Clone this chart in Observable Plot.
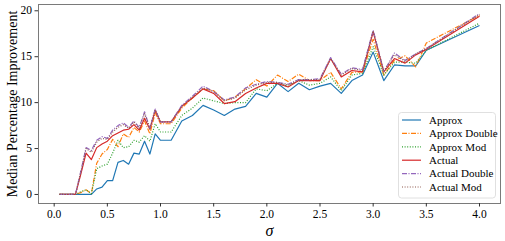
<!DOCTYPE html>
<html>
<head>
<meta charset="utf-8">
<script src="https://cdn.jsdelivr.net/npm/d3@7"></script>
<script src="https://cdn.jsdelivr.net/npm/@observablehq/plot@0.6"></script>
<style>
  html, body { margin: 0; padding: 0; background: #fff; }
  #chart { width: 505px; height: 241px; }
</style>
</head>
<body>
<div id="chart"></div>
<script>
const sigma = [0.05,0.1,0.15,0.2,0.25,0.3,0.35,0.4,0.45,0.5,0.55,0.6,0.65,0.7,0.75,0.8,0.85,0.9,0.95,1.0,
  1.1,1.2,1.3,1.4,1.5,1.6,1.7,1.8,1.9,2.0,2.1,2.2,2.3,2.4,2.5,2.6,2.7,2.8,2.9,3.0,3.1,3.2,3.3,3.4,3.5,4.0];

const approx = [0,0,0,0,0,0,0,0.6,0.8,1.5,1.5,3.5,3.7,3.3,4.5,4.4,5.8,4.4,6.6,5.9,
  5.9,8.0,8.6,9.7,9.2,8.6,9.3,9.6,11.0,10.6,12.1,11.2,12.1,11.4,11.8,12.1,11.0,12.4,13.0,15.5,12.4,14.1,14.0,14.0,15.7,18.4];
const approxDouble = [0,0,0,0,0.2,0.5,0.1,3.4,4.4,4.9,6.0,5.2,6.6,6.2,7.3,6.8,8.0,6.6,8.9,7.7,
  7.7,9.4,10.5,11.5,11.3,10.2,10.6,11.5,12.5,11.8,13.0,12.3,13.1,12.4,12.4,13.3,11.5,13.3,13.35,16.9,13.0,14.6,15.1,13.9,16.5,19.5];
const approxMod = [0,0,0,0,0.3,0.5,0.1,2.8,3.1,3.3,4.5,5.9,5.1,5.2,5.9,5.7,6.4,5.8,7.7,6.8,
  6.8,8.6,9.4,10.5,10.2,9.9,10.0,10.0,11.5,11.3,12.1,11.8,12.4,11.9,12.1,12.8,11.3,13.0,13.2,16.1,13.0,14.4,14.4,14.3,15.7,18.65];
const actual = [0,0,0,0,2.2,4.5,3.8,5.1,5.5,5.8,6.4,6.7,7.0,7.1,7.6,7.0,8.3,7.1,9.15,7.9,
  7.9,9.6,10.5,11.5,11.0,9.9,10.1,11.0,11.6,12.1,12.1,11.7,12.4,12.4,12.4,14.8,12.8,13.5,13.35,17.7,13.35,14.8,14.3,15.2,15.8,19.4];
const actualDouble = [0,0,0,0,2.5,5.1,4.8,5.9,6.3,6.1,7.0,7.5,7.8,7.3,8.0,7.3,9.0,7.2,9.3,7.9,
  7.9,9.7,10.7,11.8,11.2,10.3,10.6,11.6,12.0,12.3,12.2,12.0,12.5,12.5,12.6,14.9,13.1,13.8,13.6,17.9,13.4,15.4,14.6,15.3,15.9,19.7];
const actualMod = [0,0,0,0,2.4,5.0,4.6,5.7,6.1,6.0,6.8,7.3,7.6,7.2,7.9,7.2,8.8,7.2,9.2,7.9,
  7.9,9.6,10.6,11.6,11.2,10.2,10.5,11.4,11.9,12.2,12.2,11.9,12.5,12.5,12.5,14.8,13.0,13.7,13.5,17.8,13.4,15.2,14.5,15.3,15.9,19.6];

const seriesNames = ["Approx","Approx Double","Approx Mod","Actual","Actual Double","Actual Mod"];
const seriesValues = [approx, approxDouble, approxMod, actual, actualDouble, actualMod];
const seriesColors = ["#1f77b4","#ff7f0e","#2ca02c","#d62728","#9467bd","#8c564b"];
const seriesDash = [null, "5,1.5,1,1.5", "1,1.6", null, "5,1.5,1,1.5", "1,1.6"];

const xTicks = [0,0.5,1,1.5,2,2.5,3,3.5,4];
const yTicks = [0,5,10,15,20];

const font = "'Liberation Serif', 'DejaVu Serif', serif";

const lineMarks = seriesNames.map((name, i) => {
  const rows = sigma.map((s, j) => ({s, v: seriesValues[i][j]}));
  return Plot.line(rows, {x: "s", y: "v", stroke: seriesColors[i], strokeWidth: 1.2,
    strokeDasharray: seriesDash[i] || undefined, strokeLinejoin: "round", strokeLinecap: "butt"});
});

const plot = Plot.plot({
  width: 505,
  height: 241,
  marginLeft: 38,
  marginRight: 5,
  marginTop: 4,
  marginBottom: 38,
  style: {fontFamily: font, fontSize: "11.5px", color: "#000", background: "#fff"},
  x: {domain: [-0.1475, 4.1975]},
  y: {domain: [-0.985, 20.685]},
  marks: [
    ...lineMarks,
    Plot.frame({stroke: "#7a7a7a", strokeWidth: 1}),
    Plot.axisX({ticks: xTicks, tickFormat: d3.format(".1f"), tickSize: 3.5, tickPadding: 3, label: null, stroke: "#333"}),
    Plot.axisY({ticks: yTicks, tickFormat: d3.format("d"), tickSize: 3.5, tickPadding: 3, label: null, stroke: "#333"}),
    Plot.text(["Median Percentage Improvement"], {frameAnchor: "left", dx: -26, rotate: -90, textAnchor: "middle", lineAnchor: "middle", fontSize: 14, fill: "#000"}),
    Plot.text(["σ"], {frameAnchor: "bottom", dy: 27, textAnchor: "middle", lineAnchor: "middle", fontSize: 16, fontStyle: "italic", fill: "#000"})
  ]
});

document.getElementById("chart").appendChild(plot);

// Legend
const svg = d3.select(plot);
const lg = svg.append("g").attr("font-family", font).attr("font-size", 11).attr("text-anchor", "start");
lg.append("rect").attr("x", 398.5).attr("y", 112.5).attr("width", 97).attr("height", 85.5)
  .attr("rx", 3).attr("fill", "#fff").attr("fill-opacity", 0.85).attr("stroke", "#d8d8d8").attr("stroke-width", 0.8);
seriesNames.forEach((name, i) => {
  const y = 120 + i * 13.4;
  lg.append("line").attr("x1", 402).attr("x2", 421).attr("y1", y).attr("y2", y)
    .attr("stroke", seriesColors[i]).attr("stroke-width", 1.2)
    .attr("stroke-dasharray", seriesDash[i]);
  lg.append("text").attr("x", 429).attr("y", y).attr("dy", "0.35em").attr("text-anchor", "start").attr("fill", "#000").text(name);
});
</script>
</body>
</html>
